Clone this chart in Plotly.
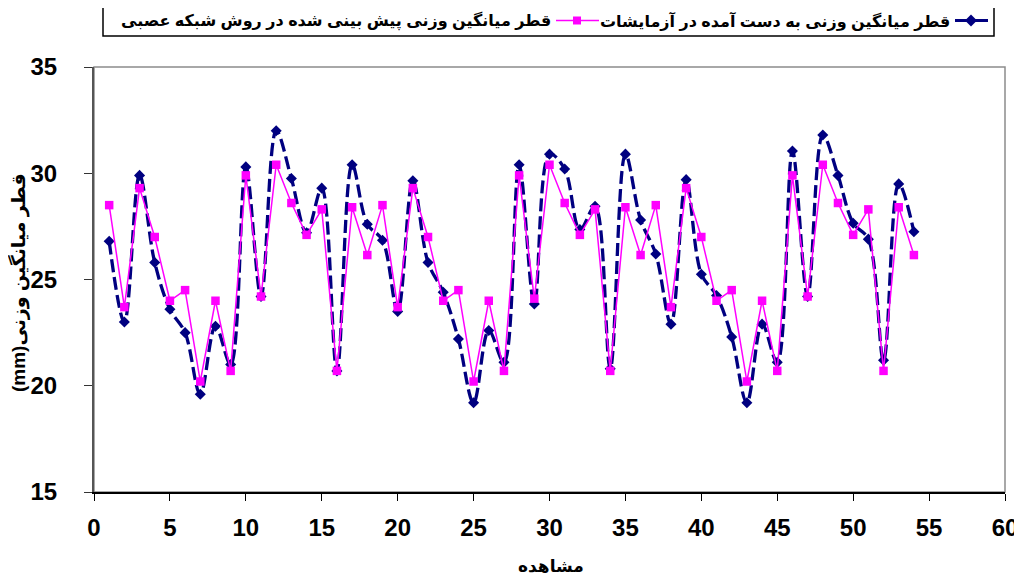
import plotly.graph_objects as go

# ---- data ----
observations = list(range(1, 55))
experimental = [26.8, 23.0, 29.9, 25.8, 23.6, 22.5, 19.6, 22.8, 21.0, 30.3,
                24.2, 32.0, 29.75, 27.2, 29.3, 20.7, 30.4, 27.6, 26.85, 23.5,
                29.65, 25.8, 24.4, 22.2, 19.2, 22.6, 21.1, 30.4, 23.85, 30.9,
                30.2, 27.35, 28.45, 20.8, 30.9, 27.8, 26.2, 22.9, 29.7, 25.25,
                24.25, 22.3, 19.2, 22.9, 21.1, 31.05, 24.2, 31.8, 29.9, 27.65,
                26.9, 21.2, 29.5, 27.25]
predicted = [28.5, 23.7, 29.3, 27.0, 24.0, 24.5, 20.2, 24.0, 20.7, 29.9,
             24.2, 30.4, 28.6, 27.1, 28.3, 20.7, 28.4, 26.15, 28.5, 23.7,
             29.3, 27.0, 24.0, 24.5, 20.2, 24.0, 20.7, 29.9, 24.1, 30.4,
             28.6, 27.1, 28.3, 20.7, 28.4, 26.15, 28.5, 23.7, 29.3, 27.0,
             24.0, 24.5, 20.2, 24.0, 20.7, 29.9, 24.2, 30.4, 28.6, 27.1,
             28.3, 20.7, 28.4, 26.15]
name_exp = "قطر میانگین وزنی به دست آمده در آزمایشات"
name_pred = "قطر میانگین وزنی پیش بینی شده در روش شبکه عصبی"
x_title = "مشاهده"
y_title = "قطر میانگین وزنی(mm)"
x_ticks = [0, 5, 10, 15, 20, 25, 30, 35, 40, 45, 50, 55, 60]
y_ticks = [15, 20, 25, 30, 35]

NAVY = "#000080"
PINK = "#FF00FF"
FONT = "Liberation Sans, Arial, DejaVu Sans, sans-serif"
RLE, PDF = "\u202B", "\u202C"

W, H = 1022, 579
OFF = 8  # page body margin
# plot area in screen pixels
SL, SR, ST, SB = 94, 1005, 67, 492
L, R, T, B = SL - OFF, SR - OFF, ST - OFF, SB - OFF


def px(X):
    return (X - OFF - L) / (R - L)


def py(Y):
    return (B - (Y - OFF)) / (B - T)


fig = go.Figure()
fig.add_trace(go.Scatter(
    x=observations, y=experimental, mode="lines+markers", name=name_exp,
    line=dict(color=NAVY, width=3.3, dash="13px,5px", shape="spline", smoothing=1.0),
    marker=dict(symbol="diamond", size=8.5, color=NAVY),
    showlegend=False))
fig.add_trace(go.Scatter(
    x=observations, y=predicted, mode="lines+markers", name=name_pred,
    line=dict(color=PINK, width=1.5),
    marker=dict(symbol="square", size=8.5, color=PINK),
    showlegend=False))

shapes = []
shapes.append(dict(type="rect", xref="paper", yref="paper", x0=0, x1=1, y0=0, y1=1,
                   line=dict(color="#8c8c8c", width=1.5), layer="below"))
# legend box
shapes.append(dict(type="rect", xref="paper", yref="paper", x0=px(103), x1=px(994),
                   y0=py(36), y1=py(5), line=dict(color="black", width=1.5),
                   fillcolor="white"))
# pink legend glyph
shapes.append(dict(type="line", xref="paper", yref="paper", x0=px(556), x1=px(599),
                   y0=py(20.5), y1=py(20.5), line=dict(color=PINK, width=1.5)))
shapes.append(dict(type="rect", xref="paper", yref="paper", x0=px(573), x1=px(581),
                   y0=py(24.5), y1=py(16.5), line=dict(width=0), fillcolor=PINK))
# navy legend glyph
shapes.append(dict(type="line", xref="paper", yref="paper", x0=px(955), x1=px(988),
                   y0=py(20.5), y1=py(20.5), line=dict(color=NAVY, width=3)))
cx, cy, d = 971, 20.5, 6
shapes.append(dict(type="path", xref="paper", yref="paper",
                   path=f"M {px(cx-d)},{py(cy)} L {px(cx)},{py(cy-d)} L {px(cx+d)},{py(cy)} L {px(cx)},{py(cy+d)} Z",
                   line=dict(width=0), fillcolor=NAVY))

bold = lambda s: dict(family=FONT, size=s, color="black", weight="bold")
annotations = [
    dict(text=RLE + name_pred + PDF, xref="paper", yref="paper", x=px(553), y=py(20.5),
         xanchor="right", yanchor="middle", showarrow=False, font=bold(16)),
    dict(text=RLE + name_exp + PDF, xref="paper", yref="paper", x=px(952), y=py(20.5),
         xanchor="right", yanchor="middle", showarrow=False, font=bold(16)),
    dict(text=RLE + x_title + PDF, xref="paper", yref="paper", x=px(551), y=py(566),
         xanchor="center", yanchor="middle", showarrow=False, font=bold(17)),
    dict(text=RLE + y_title + PDF, xref="paper", yref="paper", x=px(18), y=py(283),
         xanchor="center", yanchor="middle", textangle=-90, showarrow=False, font=bold(19)),
]

fig.update_layout(
    width=W, height=H,
    margin=dict(l=L, r=W - R, t=T, b=H - B, pad=0),
    paper_bgcolor="white", plot_bgcolor="white",
    shapes=shapes, annotations=annotations,
    showlegend=False,
    xaxis=dict(range=[0, 60], tickvals=x_ticks, showgrid=False, zeroline=False,
               showline=True, linecolor="black", linewidth=1.5,
               ticks="outside", ticklen=7, tickwidth=1.2, tickcolor="black",
               ticklabelstandoff=6, automargin=False,
               tickfont=bold(24)),
    yaxis=dict(range=[15, 35], tickvals=y_ticks, showgrid=False, zeroline=False,
               showline=True, linecolor="#555555", linewidth=2,
               ticks="outside", ticklen=8, tickwidth=1.2, tickcolor="#333333",
               ticklabelstandoff=22, automargin=False,
               tickfont=bold(24)),
)

fig.write_html("out.html")
